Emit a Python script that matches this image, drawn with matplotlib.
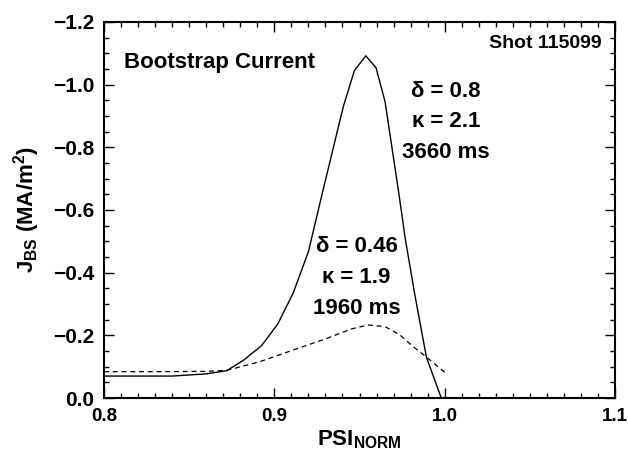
import matplotlib
matplotlib.use("Agg")
import matplotlib.pyplot as plt
from matplotlib.ticker import MultipleLocator, FuncFormatter

plt.rcParams['font.family'] = ['Liberation Sans', 'DejaVu Sans']
plt.rcParams['font.weight'] = 'bold'
plt.rcParams['axes.labelweight'] = 'bold'
plt.rcParams['mathtext.default'] = 'regular'

# solid: delta=0.8, kappa=2.1, 3660 ms
psi_hi = [0.80, 0.84, 0.86, 0.872, 0.882, 0.8925, 0.902, 0.911, 0.920, 0.928,
          0.9405, 0.947, 0.9537, 0.9597, 0.965, 0.9728, 0.977, 0.9825, 0.9893, 0.998]
jbs_hi = [-0.070, -0.070, -0.077, -0.087, -0.121, -0.167, -0.236, -0.334, -0.467, -0.650,
          -0.930, -1.045, -1.092, -1.054, -0.946, -0.664, -0.504, -0.329, -0.130, 0.0]

# dashed: delta=0.46, kappa=1.9, 1960 ms
psi_lo = [0.80, 0.83, 0.86, 0.872, 0.8916, 0.911, 0.9307, 0.945, 0.955, 0.965, 0.9738, 0.9815, 0.989, 1.0]
jbs_lo = [-0.084, -0.084, -0.085, -0.088, -0.116, -0.153, -0.190, -0.220, -0.233, -0.228,
          -0.201, -0.164, -0.132, -0.082]

fig = plt.figure(figsize=(6.28, 4.68), dpi=100)
ax = fig.add_axes([104 / 628, 1 - 398 / 468, 511 / 628, 376 / 468])

ax.plot(psi_hi, jbs_hi, color='black', lw=1.0)
ax.plot(psi_lo, jbs_lo, color='black', lw=0.9, dashes=(4, 3))

ax.set_xlim(0.8, 1.1)
ax.set_ylim(0.0, -1.2)
ax.xaxis.set_major_locator(MultipleLocator(0.1))
ax.xaxis.set_minor_locator(MultipleLocator(0.01))
ax.yaxis.set_major_locator(MultipleLocator(0.2))
ax.yaxis.set_minor_locator(MultipleLocator(0.05))
ax.xaxis.set_major_formatter(FuncFormatter(lambda v, p: f"{v:.1f}"))
ax.yaxis.set_major_formatter(FuncFormatter(lambda v, p: f"{v:.1f}".replace('-', '\u2212') if abs(v) > 1e-9 else "0.0"))

ax.tick_params(which='both', direction='in', top=True, right=True, width=1.0)
ax.tick_params(which='major', length=7, pad=7)
ax.tick_params(which='minor', length=3.5)
ax.tick_params(axis='x', labelsize=13.5)
ax.tick_params(axis='y', labelsize=15)
for s in ax.spines.values():
    s.set_linewidth(1.5)

ax.set_xlabel(r'PSI$_{NORM}$', fontsize=16, labelpad=3)
ax.set_ylabel(r'J$_{BS}$ (MA/m$^{2}$)', fontsize=16, labelpad=8)

ax.text(0.8117, -1.072, 'Bootstrap Current', fontsize=16, ha='left', va='center')
ax.text(1.0922, -1.13, 'Shot 115099', fontsize=14, ha='right', va='center')

for txt, y in [('\u03b4 = 0.8', -0.977), ('\u03ba = 2.1', -0.881), ('3660 ms', -0.785)]:
    ax.text(1.0008, y, txt, fontsize=16, ha='center', va='center')
for txt, y in [('\u03b4 = 0.46', -0.482), ('\u03ba = 1.9', -0.386), ('1960 ms', -0.287)]:
    ax.text(0.9483, y, txt, fontsize=16, ha='center', va='center')

fig.savefig('out.png', dpi=100)
